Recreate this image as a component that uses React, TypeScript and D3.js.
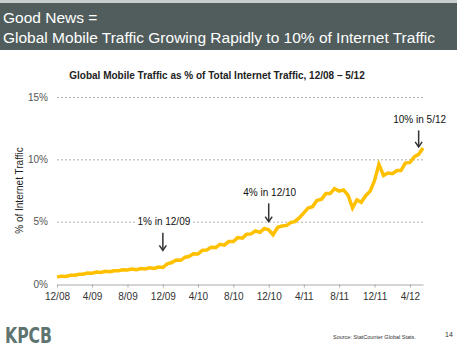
import { useEffect, useRef } from 'react';
import * as d3 from 'd3';

// half-monthly share of mobile traffic (%), from 1 Dec 2008
const startYear = 2008;
const startMonth = 11;
const shareValues = [
  0.55, 0.63, 0.6, 0.7, 0.7, 0.78, 0.78, 0.88, 0.86, 0.96,
  0.92, 1.02, 0.98, 1.06, 1.06, 1.14, 1.12, 1.2, 1.15, 1.24,
  1.2, 1.3, 1.25, 1.36, 1.32, 1.62, 1.72, 1.92, 1.9, 2.15,
  2.2, 2.42, 2.4, 2.7, 2.72, 2.95, 2.92, 3.18, 3.12, 3.4,
  3.4, 3.72, 3.68, 4.0, 4.02, 4.25, 4.15, 4.45, 4.35, 3.95,
  4.55, 4.65, 4.7, 4.95, 5.0, 5.3, 5.7, 6.1, 6.2, 6.7,
  6.8, 7.25, 7.25, 7.65, 7.45, 7.55, 7.1, 6.1, 6.75, 6.55,
  7.1, 7.45, 8.3, 9.6, 8.7, 8.9, 8.85, 9.1, 9.1, 9.7,
  9.75, 10.2, 10.4, 10.9,
];

const xTickLabels = ['12/08', '4/09', '8/09', '12/09', '4/10', '8/10', '12/10', '4/11', '8/11', '12/11', '4/12'];
const yTicks = [0, 5, 10, 15];

const callouts = [
  { label: '1% in 12/09', month: '12/09', textAt: 5.0, tipAt: 2.7 },
  { label: '4% in 12/10', month: '12/10', textAt: 7.35, tipAt: 5.0 },
  { label: '10% in 5/12', month: '5/12', textAt: 13.2, tipAt: 11.0 },
];

const parseMonth = (s: string) => {
  const [m, y] = s.split('/').map(Number);
  return new Date(2000 + y, m - 1, 1);
};

const FONT = '"Liberation Sans", Arial, sans-serif';

export default function App() {
  const svgRef = useRef<SVGSVGElement | null>(null);

  useEffect(() => {
    const svg = d3.select(svgRef.current);
    svg.selectAll('*').remove();

    const width = 457;
    const height = 351;

    const data = shareValues.map((v, i) => ({
      date: new Date(startYear, startMonth + Math.floor(i / 2), i % 2 ? 16 : 1),
      v,
    }));

    const x = d3
      .scaleTime()
      .domain([new Date(2008, 11, 1), new Date(2012, 4, 16)])
      .range([57, 423]);
    const y = d3.scaleLinear().domain([0, 15]).range([284, 97]);

    svg.append('rect').attr('width', width).attr('height', height).attr('fill', '#fff');

    // header band
    svg.append('rect').attr('x', 0).attr('y', 0).attr('width', width).attr('height', 3).attr('fill', '#c9cccc');
    svg.append('rect').attr('x', 0).attr('y', 3).attr('width', width).attr('height', 47).attr('fill', '#505d5c');
    const head = svg.append('text').attr('font-family', FONT).attr('font-size', 15.5).attr('fill', '#fff');
    head.append('tspan').attr('x', 3).attr('y', 23).text('Good News =');
    head.append('tspan').attr('x', 3).attr('y', 43).text('Global Mobile Traffic Growing Rapidly to 10% of Internet Traffic');

    // chart title
    svg
      .append('text')
      .attr('x', 217)
      .attr('y', 78.5)
      .attr('text-anchor', 'middle')
      .attr('font-family', FONT)
      .attr('font-size', 10)
      .attr('font-weight', 'bold')
      .attr('fill', '#222')
      .text('Global Mobile Traffic as % of Total Internet Traffic, 12/08 \u2013 5/12');

    // gridlines
    svg
      .append('g')
      .selectAll('line')
      .data(yTicks.filter((t) => t > 0))
      .join('line')
      .attr('x1', 57)
      .attr('x2', 423)
      .attr('y1', (d) => y(d) + 0.5)
      .attr('y2', (d) => y(d) + 0.5)
      .attr('stroke', '#9a9a9a')
      .attr('stroke-width', 0.8)
      .attr('stroke-dasharray', '2,2');

    // y axis labels
    svg
      .append('g')
      .selectAll('text')
      .data(yTicks)
      .join('text')
      .attr('x', 48)
      .attr('y', (d) => y(d) + 3.5)
      .attr('text-anchor', 'end')
      .attr('font-family', FONT)
      .attr('font-size', 10)
      .attr('fill', '#555')
      .text((d) => `${d}%`);

    svg
      .append('text')
      .attr('transform', `translate(23,${y(7.5)}) rotate(-90)`)
      .attr('text-anchor', 'middle')
      .attr('font-family', FONT)
      .attr('font-size', 10)
      .attr('fill', '#222')
      .text('% of Internet Traffic');

    // x axis
    const xAxis = svg
      .append('g')
      .attr('transform', `translate(0,${y(0) + 0.5})`)
      .call(
        d3
          .axisBottom(x)
          .tickValues(xTickLabels.map(parseMonth))
          .tickSize(3)
          .tickSizeOuter(0)
          .tickFormat((_, i) => xTickLabels[i])
      );
    xAxis.select('.domain').attr('stroke', '#aaa');
    xAxis.selectAll('.tick line').attr('stroke', '#aaa');
    xAxis
      .selectAll('.tick text')
      .attr('font-family', FONT)
      .attr('font-size', 10)
      .attr('fill', '#333')
      .attr('dy', '0.9em');

    // series
    const line = d3
      .line<{ date: Date; v: number }>()
      .x((d) => x(d.date))
      .y((d) => y(d.v));
    svg
      .append('path')
      .datum(data)
      .attr('d', line)
      .attr('fill', 'none')
      .attr('stroke', '#ffc000')
      .attr('stroke-width', 3.5)
      .attr('stroke-linejoin', 'miter');

    // callouts
    callouts.forEach((c) => {
      const cx = x(parseMonth(c.month));
      const ty = y(c.textAt);
      const t = svg
        .append('text')
        .attr('x', cx + 1)
        .attr('y', ty + 3.5)
        .attr('text-anchor', 'middle')
        .attr('font-family', FONT)
        .attr('font-size', 10)
        .attr('fill', '#111')
        .text(c.label);
      const bb = (t.node() as SVGTextElement).getBBox();
      svg
        .insert('rect', () => t.node() as SVGTextElement)
        .attr('x', bb.x - 2)
        .attr('y', bb.y)
        .attr('width', bb.width + 4)
        .attr('height', bb.height)
        .attr('fill', '#fff');
      const y0 = ty + 11;
      const y1 = y(c.tipAt);
      svg
        .append('line')
        .attr('x1', cx)
        .attr('x2', cx)
        .attr('y1', y0)
        .attr('y2', y1)
        .attr('stroke', '#333')
        .attr('stroke-width', 1.5);
      svg
        .append('path')
        .attr('d', `M${cx - 3.5},${y1 - 5}L${cx},${y1}L${cx + 3.5},${y1 - 5}`)
        .attr('fill', 'none')
        .attr('stroke', '#333')
        .attr('stroke-width', 1.5);
    });

    // footer
    svg
      .append('text')
      .attr('x', 5)
      .attr('y', 342.5)
      .attr('font-family', '"DejaVu Sans Condensed", "DejaVu Sans", sans-serif')
      .attr('font-weight', 'bold')
      .attr('font-size', 22)
      .attr('textLength', 47)
      .attr('lengthAdjust', 'spacingAndGlyphs')
      .attr('fill', '#5f7470')
      .text('KPCB');
    svg
      .append('text')
      .attr('x', 333)
      .attr('y', 339)
      .attr('font-family', FONT)
      .attr('font-size', 5.5)
      .attr('fill', '#333')
      .text('Source: StatCounter Global Stats.');
    svg
      .append('text')
      .attr('x', 445)
      .attr('y', 337)
      .attr('font-family', FONT)
      .attr('font-size', 7)
      .attr('fill', '#333')
      .text('14');

    return () => {
      svg.selectAll('*').remove();
    };
  }, []);

  return (
    <svg
      ref={svgRef}
      width={457}
      height={351}
      style={{ position: 'absolute', left: 0, top: 0, display: 'block' }}
    />
  );
}
